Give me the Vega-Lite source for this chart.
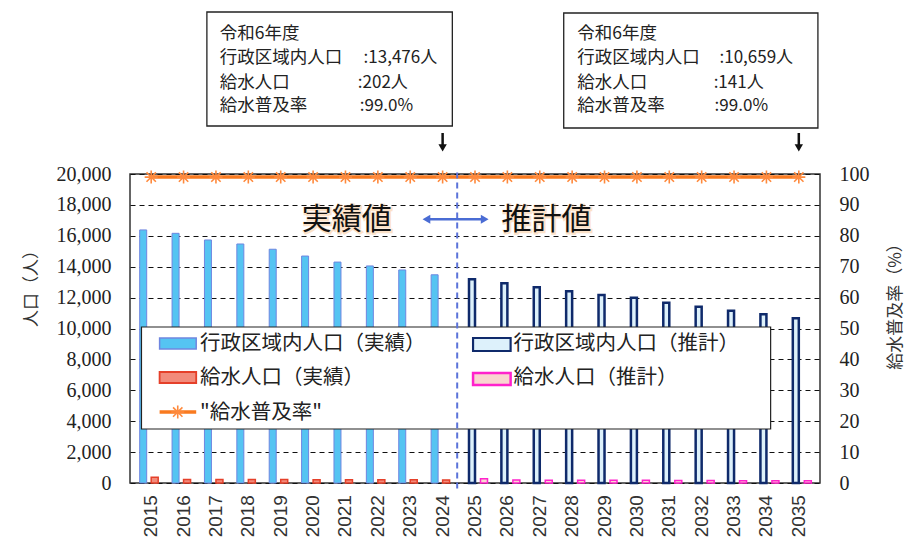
{
  "$schema": "https://vega.github.io/schema/vega-lite/v6.json",
  "width": 690,
  "height": 309,
  "autosize": {"type": "none"},
  "padding": {"left": 130, "top": 174, "right": 96, "bottom": 58},
  "background": "white",
  "config": {
    "view": {"stroke": "#333", "strokeWidth": 1.5},
    "axis": {
      "labelFont": "Liberation Serif", "labelFontSize": 20, "labelColor": "#222",
      "ticks": false, "domain": false,
      "titleFont": "Noto Sans CJK JP", "titleFontSize": 17, "titleFontWeight": "normal", "titleColor": "#333"
    },
    "axisLeft": {"labelPadding": 19},
    "axisRight": {"labelPadding": 19}
  },
  "datasets": {
    "popA": [
      {"year": 2015, "v": 16380}, {"year": 2016, "v": 16160}, {"year": 2017, "v": 15730},
      {"year": 2018, "v": 15470}, {"year": 2019, "v": 15130}, {"year": 2020, "v": 14690},
      {"year": 2021, "v": 14300}, {"year": 2022, "v": 14050}, {"year": 2023, "v": 13790},
      {"year": 2024, "v": 13476}
    ],
    "popP": [
      {"year": 2025, "v": 13180}, {"year": 2026, "v": 12930}, {"year": 2027, "v": 12670},
      {"year": 2028, "v": 12410}, {"year": 2029, "v": 12170}, {"year": 2030, "v": 11990},
      {"year": 2031, "v": 11670}, {"year": 2032, "v": 11410}, {"year": 2033, "v": 11150},
      {"year": 2034, "v": 10920}, {"year": 2035, "v": 10659}
    ],
    "watA": [
      {"year": 2015, "v": 380}, {"year": 2016, "v": 230}, {"year": 2017, "v": 225},
      {"year": 2018, "v": 220}, {"year": 2019, "v": 225}, {"year": 2020, "v": 215},
      {"year": 2021, "v": 215}, {"year": 2022, "v": 210}, {"year": 2023, "v": 210},
      {"year": 2024, "v": 202}
    ],
    "watP": [
      {"year": 2025, "v": 280}, {"year": 2026, "v": 190}, {"year": 2027, "v": 185},
      {"year": 2028, "v": 180}, {"year": 2029, "v": 175}, {"year": 2030, "v": 170},
      {"year": 2031, "v": 162}, {"year": 2032, "v": 158}, {"year": 2033, "v": 152},
      {"year": 2034, "v": 147}, {"year": 2035, "v": 141}
    ],
    "rate": [
      {"year": 2015, "r": 99.0}, {"year": 2016, "r": 99.0}, {"year": 2017, "r": 99.0},
      {"year": 2018, "r": 99.0}, {"year": 2019, "r": 99.0}, {"year": 2020, "r": 99.0},
      {"year": 2021, "r": 99.0}, {"year": 2022, "r": 99.0}, {"year": 2023, "r": 99.0},
      {"year": 2024, "r": 99.0}, {"year": 2025, "r": 99.0}, {"year": 2026, "r": 99.0},
      {"year": 2027, "r": 99.0}, {"year": 2028, "r": 99.0}, {"year": 2029, "r": 99.0},
      {"year": 2030, "r": 99.0}, {"year": 2031, "r": 99.0}, {"year": 2032, "r": 99.0},
      {"year": 2033, "r": 99.0}, {"year": 2034, "r": 99.0}, {"year": 2035, "r": 99.0}
    ],
    "bigText": [
      {"x": 2021.04, "y": 17023, "t": "実績値"},
      {"x": 2027.21, "y": 17023, "t": "推計値"}
    ],
    "arrowH": [{"x": 2023.55, "x2": 2025.25, "y": 17067}],
    "arrowHeads": [
      {"x": 2023.5, "y": 17067, "s": "triangle-left"},
      {"x": 2025.3, "y": 17067, "s": "triangle-right"}
    ],
    "divider": [{"x": 2024.45, "y": 20100, "y2": -500}],
    "boxes": [
      {"x": 2016.72, "x2": 2024.30, "y": 30485, "y2": 23107},
      {"x": 2027.74, "x2": 2035.59, "y": 30421, "y2": 22977}
    ],
    "boxLabels": [
      {"x": 2017.12, "y": 29060, "t": "令和6年度"},
      {"x": 2017.12, "y": 27500, "t": "行政区域内人口"},
      {"x": 2017.12, "y": 25880, "t": "給水人口"},
      {"x": 2017.12, "y": 24380, "t": "給水普及率"},
      {"x": 2028.16, "y": 29060, "t": "令和6年度"},
      {"x": 2028.16, "y": 27500, "t": "行政区域内人口"},
      {"x": 2028.16, "y": 25880, "t": "給水人口"},
      {"x": 2028.16, "y": 24380, "t": "給水普及率"}
    ],
    "boxValues": [
      {"x": 2021.56, "y": 27500, "t": ":13,476人"},
      {"x": 2021.38, "y": 25880, "t": ":202人"},
      {"x": 2021.44, "y": 24380, "t": ":99.0%"},
      {"x": 2032.55, "y": 27500, "t": ":10,659人"},
      {"x": 2032.37, "y": 25880, "t": ":141人"},
      {"x": 2032.40, "y": 24380, "t": ":99.0%"}
    ],
    "downArrows": [
      {"x": 2024.0, "y": 22654, "y2": 21877, "yh": 21683},
      {"x": 2035.0, "y": 22654, "y2": 21877, "yh": 21683}
    ],
    "legendBox": [{"x": 2014.70, "x2": 2034.13, "y": 10097, "y2": 3495}],
    "legendSw": [
      {"x": 2015.26, "x2": 2016.39, "y": 9385, "y2": 8673, "k": "popA"},
      {"x": 2015.26, "x2": 2016.39, "y": 7184, "y2": 6472, "k": "watA"},
      {"x": 2024.94, "x2": 2026.10, "y": 9385, "y2": 8544, "k": "popP"},
      {"x": 2024.94, "x2": 2026.10, "y": 7120, "y2": 6343, "k": "watP"}
    ],
    "legendLine": [{"x": 2015.26, "x2": 2016.39, "y": 4595}],
    "legendStar": [{"x": 2015.82, "y": 4595}],
    "legendText": [
      {"x": 2016.51, "y": 8997, "t": "行政区域内人口（実績）"},
      {"x": 2016.51, "y": 6796, "t": "給水人口（実績）"},
      {"x": 2016.51, "y": 4531, "t": "\"給水普及率\""},
      {"x": 2026.19, "y": 8997, "t": "行政区域内人口（推計）"},
      {"x": 2026.19, "y": 6796, "t": "給水人口（推計）"}
    ]
  },
  "resolve": {"scale": {"y": "independent"}, "axis": {"y": "independent"}},
  "layer": [
    {
      "data": {"name": "popA"},
      "mark": {"type": "bar", "orient": "vertical", "width": 7, "xOffset": -8, "fill": "#55C4F2", "stroke": "#6F86E0", "strokeWidth": 1},
      "encoding": {
        "x": {"field": "year", "type": "quantitative", "scale": {"domain": [2014.5, 2035.5], "nice": false, "zero": false}, "axis": null},
        "y": {
          "field": "v", "type": "quantitative",
          "scale": {"domain": [0, 20000], "nice": false},
          "axis": {
            "orient": "left",
            "values": [0, 2000, 4000, 6000, 8000, 10000, 12000, 14000, 16000, 18000, 20000],
            "labelExpr": "format(datum.value, ',')",
            "labelPadding": 19,
            "grid": true, "gridColor": "#111", "gridDash": [5, 4], "gridWidth": 1,
            "title": "人口（人）", "titleAngle": 270,
            "titleAlign": "center", "titleBaseline": "middle", "titleX": -99, "titleY": 110
          }
        }
      }
    },
    {
      "data": {"name": "popP"},
      "mark": {"type": "bar", "orient": "vertical", "width": 6, "xOffset": -3, "fill": "#DDF1FB", "stroke": "#0F2A6B", "strokeWidth": 2.5},
      "encoding": {
        "x": {"field": "year", "type": "quantitative", "scale": {"domain": [2014.5, 2035.5], "nice": false, "zero": false}, "axis": null},
        "y": {"field": "v", "type": "quantitative", "scale": {"domain": [0, 20000], "nice": false}, "axis": null}
      }
    },
    {
      "data": {"name": "watA"},
      "mark": {"type": "bar", "orient": "vertical", "width": 7, "xOffset": 3.5, "fill": "#F28B7B", "stroke": "#E5402A", "strokeWidth": 1.5},
      "encoding": {
        "x": {"field": "year", "type": "quantitative", "scale": {"domain": [2014.5, 2035.5], "nice": false, "zero": false}, "axis": null},
        "y": {"field": "v", "type": "quantitative", "scale": {"domain": [0, 20000], "nice": false}, "axis": null}
      }
    },
    {
      "data": {"name": "watP"},
      "mark": {"type": "bar", "orient": "vertical", "width": 7, "xOffset": 9, "fill": "#F9D5D0", "stroke": "#FF22CC", "strokeWidth": 1.5},
      "encoding": {
        "x": {"field": "year", "type": "quantitative", "scale": {"domain": [2014.5, 2035.5], "nice": false, "zero": false}, "axis": null},
        "y": {"field": "v", "type": "quantitative", "scale": {"domain": [0, 20000], "nice": false}, "axis": null}
      }
    },
    {
      "data": {"name": "rate"},
      "mark": {"type": "text", "angle": 270, "align": "right", "baseline": "middle", "font": "Liberation Sans", "fontSize": 19, "color": "#333"},
      "encoding": {
        "x": {"field": "year", "type": "quantitative", "scale": {"domain": [2014.5, 2035.5], "nice": false, "zero": false}, "axis": null},
        "y": {"datum": -780, "type": "quantitative", "scale": {"domain": [0, 20000], "nice": false}, "axis": null},
        "text": {"field": "year", "type": "quantitative", "format": "d"}
      }
    },
    {
      "data": {"name": "rate"},
      "mark": {"type": "line", "color": "#F97A1F", "strokeWidth": 3.5},
      "encoding": {
        "x": {"field": "year", "type": "quantitative", "scale": {"domain": [2014.5, 2035.5], "nice": false, "zero": false}, "axis": null},
        "y": {
          "field": "r", "type": "quantitative",
          "scale": {"domain": [0, 100], "nice": false},
          "axis": {
            "orient": "right",
            "values": [0, 10, 20, 30, 40, 50, 60, 70, 80, 90, 100],
            "labelExpr": "'' + datum.value",
            "labelPadding": 19, "grid": false,
            "title": "給水普及率（%）", "titleAngle": 270,
            "titleAlign": "center", "titleBaseline": "middle", "titleX": 75, "titleY": 128
          }
        }
      }
    },
    {
      "data": {"name": "rate"},
      "mark": {"type": "point", "shape": "M-1,0H1M0,-1V1M-0.72,-0.72L0.72,0.72M-0.72,0.72L0.72,-0.72", "size": 170, "filled": false, "stroke": "#FF8A3D", "strokeWidth": 1.6, "opacity": 1},
      "encoding": {
        "x": {"field": "year", "type": "quantitative", "scale": {"domain": [2014.5, 2035.5], "nice": false, "zero": false}, "axis": null},
        "y": {"field": "r", "type": "quantitative", "scale": {"domain": [0, 100], "nice": false}, "axis": null}
      }
    },
    {
      "data": {"name": "legendBox"},
      "mark": {"type": "rect", "fill": "white", "stroke": "#222", "strokeWidth": 1.2},
      "encoding": {
        "x": {"field": "x", "type": "quantitative", "scale": {"domain": [2014.5, 2035.5], "nice": false, "zero": false}, "axis": null},
        "x2": {"field": "x2"},
        "y": {"field": "y", "type": "quantitative", "scale": {"domain": [0, 20000], "nice": false}, "axis": null},
        "y2": {"field": "y2"}
      }
    },
    {
      "data": {"name": "legendSw"},
      "mark": {"type": "rect"},
      "encoding": {
        "x": {"field": "x", "type": "quantitative", "scale": {"domain": [2014.5, 2035.5], "nice": false, "zero": false}, "axis": null},
        "x2": {"field": "x2"},
        "y": {"field": "y", "type": "quantitative", "scale": {"domain": [0, 20000], "nice": false}, "axis": null},
        "y2": {"field": "y2"},
        "fill": {"field": "k", "type": "nominal", "scale": {"domain": ["popA", "watA", "popP", "watP"], "range": ["#55C4F2", "#F28B7B", "#DDF1FB", "#F9D5D0"]}, "legend": null},
        "stroke": {"field": "k", "type": "nominal", "scale": {"domain": ["popA", "watA", "popP", "watP"], "range": ["#6F86E0", "#E5402A", "#0F2A6B", "#FF22CC"]}, "legend": null},
        "strokeWidth": {"field": "k", "type": "nominal", "scale": {"domain": ["popA", "watA", "popP", "watP"], "range": [1.5, 2.5, 2.5, 2.5]}, "legend": null}
      }
    },
    {
      "data": {"name": "legendLine"},
      "mark": {"type": "rule", "color": "#F97A1F", "strokeWidth": 3.5},
      "encoding": {
        "x": {"field": "x", "type": "quantitative", "scale": {"domain": [2014.5, 2035.5], "nice": false, "zero": false}, "axis": null},
        "x2": {"field": "x2"},
        "y": {"field": "y", "type": "quantitative", "scale": {"domain": [0, 20000], "nice": false}, "axis": null}
      }
    },
    {
      "data": {"name": "legendStar"},
      "mark": {"type": "point", "shape": "M-1,0H1M0,-1V1M-0.72,-0.72L0.72,0.72M-0.72,0.72L0.72,-0.72", "size": 170, "filled": false, "stroke": "#FF8A3D", "strokeWidth": 1.6, "opacity": 1},
      "encoding": {
        "x": {"field": "x", "type": "quantitative", "scale": {"domain": [2014.5, 2035.5], "nice": false, "zero": false}, "axis": null},
        "y": {"field": "y", "type": "quantitative", "scale": {"domain": [0, 20000], "nice": false}, "axis": null}
      }
    },
    {
      "data": {"name": "legendText"},
      "mark": {"type": "text", "align": "left", "baseline": "middle", "font": "Noto Sans CJK JP", "fontSize": 20.5, "color": "#222"},
      "encoding": {
        "x": {"field": "x", "type": "quantitative", "scale": {"domain": [2014.5, 2035.5], "nice": false, "zero": false}, "axis": null},
        "y": {"field": "y", "type": "quantitative", "scale": {"domain": [0, 20000], "nice": false}, "axis": null},
        "text": {"field": "t"}
      }
    },
    {
      "data": {"name": "divider"},
      "mark": {"type": "rule", "color": "#5B73D9", "strokeWidth": 2, "strokeDash": [6, 4]},
      "encoding": {
        "x": {"field": "x", "type": "quantitative", "scale": {"domain": [2014.5, 2035.5], "nice": false, "zero": false}, "axis": null},
        "y": {"field": "y", "type": "quantitative", "scale": {"domain": [0, 20000], "nice": false}, "axis": null},
        "y2": {"field": "y2"}
      }
    },
    {
      "data": {"name": "bigText"},
      "mark": {"type": "text", "align": "center", "baseline": "middle", "font": "Noto Sans CJK JP", "fontSize": 30, "fill": "#F6A04D", "stroke": "#F6A04D", "strokeWidth": 2.5, "opacity": 0.3, "dx": 1, "dy": 1},
      "encoding": {
        "x": {"field": "x", "type": "quantitative", "scale": {"domain": [2014.5, 2035.5], "nice": false, "zero": false}, "axis": null},
        "y": {"field": "y", "type": "quantitative", "scale": {"domain": [0, 20000], "nice": false}, "axis": null},
        "text": {"field": "t"}
      }
    },
    {
      "data": {"name": "bigText"},
      "mark": {"type": "text", "align": "center", "baseline": "middle", "font": "Noto Sans CJK JP", "fontSize": 30, "fontWeight": "normal", "color": "#111"},
      "encoding": {
        "x": {"field": "x", "type": "quantitative", "scale": {"domain": [2014.5, 2035.5], "nice": false, "zero": false}, "axis": null},
        "y": {"field": "y", "type": "quantitative", "scale": {"domain": [0, 20000], "nice": false}, "axis": null},
        "text": {"field": "t"}
      }
    },
    {
      "data": {"name": "arrowH"},
      "mark": {"type": "rule", "color": "#4A6CD4", "strokeWidth": 2.5},
      "encoding": {
        "x": {"field": "x", "type": "quantitative", "scale": {"domain": [2014.5, 2035.5], "nice": false, "zero": false}, "axis": null},
        "x2": {"field": "x2"},
        "y": {"field": "y", "type": "quantitative", "scale": {"domain": [0, 20000], "nice": false}, "axis": null}
      }
    },
    {
      "data": {"name": "arrowHeads"},
      "mark": {"type": "point", "filled": true, "size": 80, "color": "#4A6CD4", "opacity": 1},
      "encoding": {
        "x": {"field": "x", "type": "quantitative", "scale": {"domain": [2014.5, 2035.5], "nice": false, "zero": false}, "axis": null},
        "y": {"field": "y", "type": "quantitative", "scale": {"domain": [0, 20000], "nice": false}, "axis": null},
        "shape": {"field": "s", "type": "nominal", "scale": null}
      }
    },
    {
      "data": {"name": "boxes"},
      "mark": {"type": "rect", "fill": "white", "stroke": "#222", "strokeWidth": 1.3},
      "encoding": {
        "x": {"field": "x", "type": "quantitative", "scale": {"domain": [2014.5, 2035.5], "nice": false, "zero": false}, "axis": null},
        "x2": {"field": "x2"},
        "y": {"field": "y", "type": "quantitative", "scale": {"domain": [0, 20000], "nice": false}, "axis": null},
        "y2": {"field": "y2"}
      }
    },
    {
      "data": {"name": "boxLabels"},
      "mark": {"type": "text", "align": "left", "baseline": "middle", "font": "Noto Sans CJK JP", "fontSize": 17.5, "color": "#222"},
      "encoding": {
        "x": {"field": "x", "type": "quantitative", "scale": {"domain": [2014.5, 2035.5], "nice": false, "zero": false}, "axis": null},
        "y": {"field": "y", "type": "quantitative", "scale": {"domain": [0, 20000], "nice": false}, "axis": null},
        "text": {"field": "t"}
      }
    },
    {
      "data": {"name": "boxValues"},
      "mark": {"type": "text", "align": "left", "baseline": "middle", "font": "Noto Sans CJK JP", "fontSize": 17, "color": "#222"},
      "encoding": {
        "x": {"field": "x", "type": "quantitative", "scale": {"domain": [2014.5, 2035.5], "nice": false, "zero": false}, "axis": null},
        "y": {"field": "y", "type": "quantitative", "scale": {"domain": [0, 20000], "nice": false}, "axis": null},
        "text": {"field": "t"}
      }
    },
    {
      "data": {"name": "downArrows"},
      "mark": {"type": "rule", "color": "#111", "strokeWidth": 2.5},
      "encoding": {
        "x": {"field": "x", "type": "quantitative", "scale": {"domain": [2014.5, 2035.5], "nice": false, "zero": false}, "axis": null},
        "y": {"field": "y", "type": "quantitative", "scale": {"domain": [0, 20000], "nice": false}, "axis": null},
        "y2": {"field": "y2"}
      }
    },
    {
      "data": {"name": "downArrows"},
      "mark": {"type": "point", "shape": "triangle-down", "filled": true, "size": 70, "color": "#111", "opacity": 1},
      "encoding": {
        "x": {"field": "x", "type": "quantitative", "scale": {"domain": [2014.5, 2035.5], "nice": false, "zero": false}, "axis": null},
        "y": {"field": "yh", "type": "quantitative", "scale": {"domain": [0, 20000], "nice": false}, "axis": null}
      }
    }
  ]
}
